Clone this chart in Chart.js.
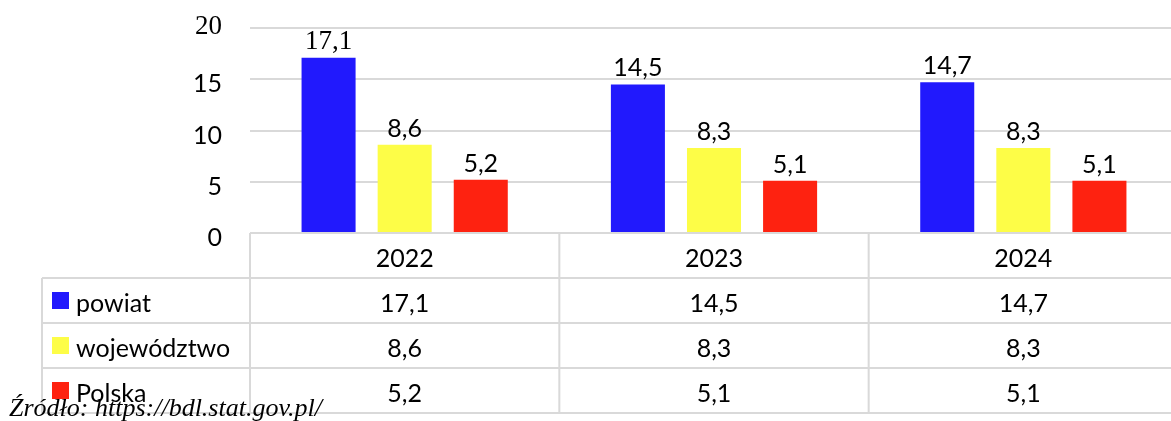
<!DOCTYPE html>
<html>
<head>
<meta charset="utf-8">
<script src="https://cdn.jsdelivr.net/npm/chart.js@4/dist/chart.umd.min.js"></script>
<style>
  html, body { margin: 0; padding: 0; background: #fff; overflow: hidden; }
  #wrap { width: 1171px; height: 421px; overflow: hidden; }
</style>
</head>
<body>
<div id="wrap"><canvas id="chart" width="1178" height="421"></canvas></div>
<script>
// ── Data ───────────────────────────────────────────────────────
const years = ['2022', '2023', '2024'];
const seriesNames = ['powiat', 'województwo', 'Polska'];
const powiat = [17.1, 14.5, 14.7];
const wojewodztwo = [8.6, 8.3, 8.3];
const polska = [5.2, 5.1, 5.1];
const yTicks = [0, 5, 10, 15, 20];
const source = 'Źródło: https://bdl.stat.gov.pl/';

const colors = ['#2119fd', '#fdfd47', '#fe2210'];
const gridColor = '#d9d9d9';
const SANS = '"Lato", "Open Sans", sans-serif';
const SERIF = '"Liberation Serif", "DejaVu Serif", serif';
const fmt = v => v.toFixed(1).replace('.', ',');

// ── Overlay drawing: tick labels, value labels, data table ─────
const overlay = {
  id: 'overlay',
  afterDraw(chart) {
    const { ctx, scales: { x, y } } = chart;
    ctx.save();
    ctx.fillStyle = '#000';

    // y tick labels (the top one is in a serif face, like the source)
    ctx.textAlign = 'right';
    ctx.textBaseline = 'middle';
    yTicks.forEach(t => {
      const serif = t === 20;
      ctx.font = serif ? `27px ${SERIF}` : `25px ${SANS}`;
      ctx.fillText(String(t), 222, y.getPixelForValue(t) + (serif ? -1 : 5));
    });

    // value labels above bars
    ctx.textAlign = 'center';
    chart.data.datasets.forEach((ds, di) => {
      chart.getDatasetMeta(di).data.forEach((bar, i) => {
        const serif = di === 0 && i === 0;
        ctx.font = serif ? `27px ${SERIF}` : `25px ${SANS}`;
        ctx.fillText(fmt(ds.data[i]), bar.x, bar.y - 16);
      });
    });

    // data table
    const half = (x.getPixelForValue(1) - x.getPixelForValue(0)) / 2;
    const left = x.getPixelForValue(0) - half;
    const right = x.getPixelForValue(years.length - 1) + half;
    const top = y.getPixelForValue(0);
    const rowH = 45;
    const tableLeft = 42;

    ctx.strokeStyle = gridColor;
    ctx.lineWidth = 2;
    ctx.beginPath();
    for (let r = 1; r <= seriesNames.length + 1; r++) {
      const yy = top + r * rowH;
      ctx.moveTo(tableLeft, yy); ctx.lineTo(right, yy);
    }
    ctx.moveTo(tableLeft, top + rowH); ctx.lineTo(tableLeft, top + rowH * (seriesNames.length + 1));
    for (let c = 0; c <= years.length; c++) {
      const xx = left + c * half * 2;
      ctx.moveTo(xx, top); ctx.lineTo(xx, top + rowH * (seriesNames.length + 1));
    }
    ctx.stroke();

    ctx.font = `25px ${SANS}`;
    ctx.textAlign = 'center';
    years.forEach((yr, i) => ctx.fillText(yr, x.getPixelForValue(i), top + rowH / 2 + 3));
    chart.data.datasets.forEach((ds, di) => {
      const cy = top + rowH * (di + 1) + rowH / 2;
      ds.data.forEach((v, i) => ctx.fillText(fmt(v), x.getPixelForValue(i), cy + 3));
      ctx.fillStyle = ds.backgroundColor;
      ctx.fillRect(52, cy - 8.5, 17, 17);
      ctx.fillStyle = '#000';
      ctx.textAlign = 'left';
      ctx.fillText(ds.label, 76, cy + 3);
      ctx.textAlign = 'center';
    });

    // source note
    ctx.font = `italic 26px ${SERIF}`;
    ctx.textAlign = 'left';
    ctx.textBaseline = 'alphabetic';
    ctx.fillText(source, 9, 416);
    ctx.restore();
  }
};

new Chart(document.getElementById('chart'), {
  type: 'bar',
  data: {
    labels: years,
    datasets: [powiat, wojewodztwo, polska].map((d, i) => ({
      label: seriesNames[i],
      data: d,
      backgroundColor: colors[i],
      categoryPercentage: 0.738,
      barPercentage: 0.71,
    }))
  },
  options: {
    responsive: false,
    devicePixelRatio: 1,
    animation: false,
    layout: { padding: { top: 28, bottom: 188, left: 0, right: 0 } },
    plugins: { legend: { display: false }, tooltip: { enabled: false } },
    scales: {
      x: { display: false },
      y: {
        min: 0, max: 20,
        afterBuildTicks: s => { s.ticks = yTicks.map(v => ({ value: v })); },
        afterFit: s => { s.width = 250; },
        ticks: { display: false },
        border: { display: false },
        grid: { color: gridColor, lineWidth: 2, drawTicks: false },
      }
    }
  },
  plugins: [overlay]
});
</script>
</body>
</html>
